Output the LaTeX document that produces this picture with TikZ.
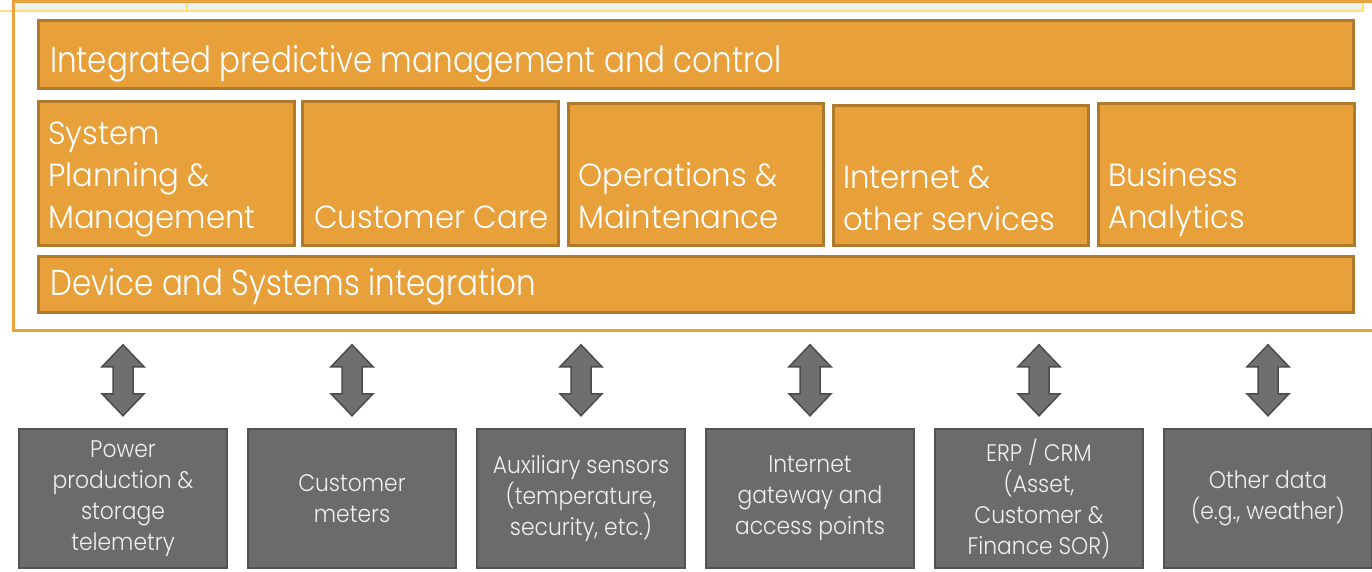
\documentclass[tikz,border=0pt]{standalone}
\usepackage{fontspec}
\setmainfont{Poppins}[UprightFont={* Light}]
\newfontfamily\barfont{Poppins}[UprightFont={* Light}, FakeStretch=0.86]
\newfontfamily\cellfont{Poppins}[UprightFont={* Light}, FakeStretch=0.96]
\newfontfamily\srcfont{Poppins}[UprightFont={* Light}, FakeStretch=0.91]
\begin{document}
\definecolor{orfill}{HTML}{E8A13A}
\definecolor{oredge}{HTML}{B07A2C}
\definecolor{framecol}{HTML}{E9A23D}
\definecolor{stripgray}{HTML}{EEF0F0}
\definecolor{stripyellow}{HTML}{FFDD7A}
\definecolor{gyfill}{HTML}{6B6B6B}
\definecolor{gyedge}{HTML}{525252}
\definecolor{arfill}{HTML}{6F6F6F}
\definecolor{aredge}{HTML}{4B4B4B}
\definecolor{lighttext}{HTML}{F0F0F0}
\begin{tikzpicture}[x=1pt,y=-1pt,
  obox/.style={draw=oredge, fill=orfill, line width=3pt, rectangle, inner sep=0pt},
  gbox/.style={draw=gyedge, fill=gyfill, line width=2.5pt, rectangle, inner sep=0pt,
    minimum width=208pt, minimum height=139pt, text=lighttext, align=center,
    font=\srcfont\fontsize{24}{31}\selectfont},
  bartext/.style={anchor=base west, inner sep=0pt, text=white,
    font=\barfont\fontsize{36}{42}\selectfont},
  celltext/.style={anchor=base west, inner sep=0pt, text=white, align=left,
    font=\cellfont\fontsize{32}{42}\selectfont},
  biarrow/.style={draw=aredge, fill=arfill, line width=1.5pt, line join=miter}
]
\useasboundingbox (0,0) rectangle (1372,571);

% strip along the top edge
\fill[stripgray] (15,3) rectangle (1363,10);
\draw[stripyellow, line width=2pt] (0,11) -- (1364,11);
\draw[stripyellow, line width=1.5pt] (187,3) -- (187,10);
\draw[stripyellow, line width=1.5pt] (1363,3) -- (1363,11);

% outer frame of the control platform
\draw[framecol, line width=3pt] (1380,1.5) -- (13.5,1.5) -- (13.5,330.5) -- (1380,330.5);

% platform layers
\node[obox, minimum width=1315pt, minimum height=68pt] (top) at (695.5,54) {};
\node[bartext] (toptxt) at (50,72) {Integrated predictive management and control};

\node[obox, minimum width=256pt, minimum height=144pt] (m1) at (166,173) {};
\node[obox, minimum width=256pt, minimum height=144pt] (m2) at (430,173) {};
\node[obox, minimum width=255pt, minimum height=142pt] (m3) at (695.5,174) {};
\node[obox, minimum width=255pt, minimum height=140pt] (m4) at (960.5,175) {};
\node[obox, minimum width=256pt, minimum height=142pt] (m5) at (1226,174) {};

\node[celltext] (t1) at (48,228) {System\\Planning \&\\Management};
\node[celltext] (t2) at (314,228) {Customer Care};
\node[celltext] (t3) at (578,228) {Operations \&\\Maintenance};
\node[celltext] (t4) at (843,230) {Internet \&\\other services};
\node[celltext] (t5) at (1108,228) {Business\\Analytics};

\node[obox, minimum width=1315pt, minimum height=56pt] (dev) at (695.5,284) {};
\node[bartext] (devtxt) at (50,295) {Device and Systems integration};

% data sources
\node[gbox] (b1) at (123,498.5) {Power\\production \&\\storage\\telemetry};
\node[gbox] (b2) at (352,498.5) {Customer\\meters};
\node[gbox] (b3) at (581,498.5) {Auxiliary sensors\\(temperature,\\security, etc.)};
\node[gbox] (b4) at (810,498.5) {Internet\\gateway and\\access points};
\node[gbox] (b5) at (1039,498.5) {ERP / CRM\\(Asset,\\Customer \&\\Finance SOR)};
\node[gbox] (b6) at (1268,498.5) {Other data\\(e.g., weather)};

% two-way exchange arrows above each source
\foreach \b in {b1,b2,b3,b4,b5,b6}{
  \draw[biarrow, shift={(\b.north)}]
    (0,-83) -- (21,-61) -- (10,-61) -- (10,-34) -- (21,-34) -- (0,-12)
    -- (-21,-34) -- (-10,-34) -- (-10,-61) -- (-21,-61) -- cycle;
}
\end{tikzpicture}
\end{document}
